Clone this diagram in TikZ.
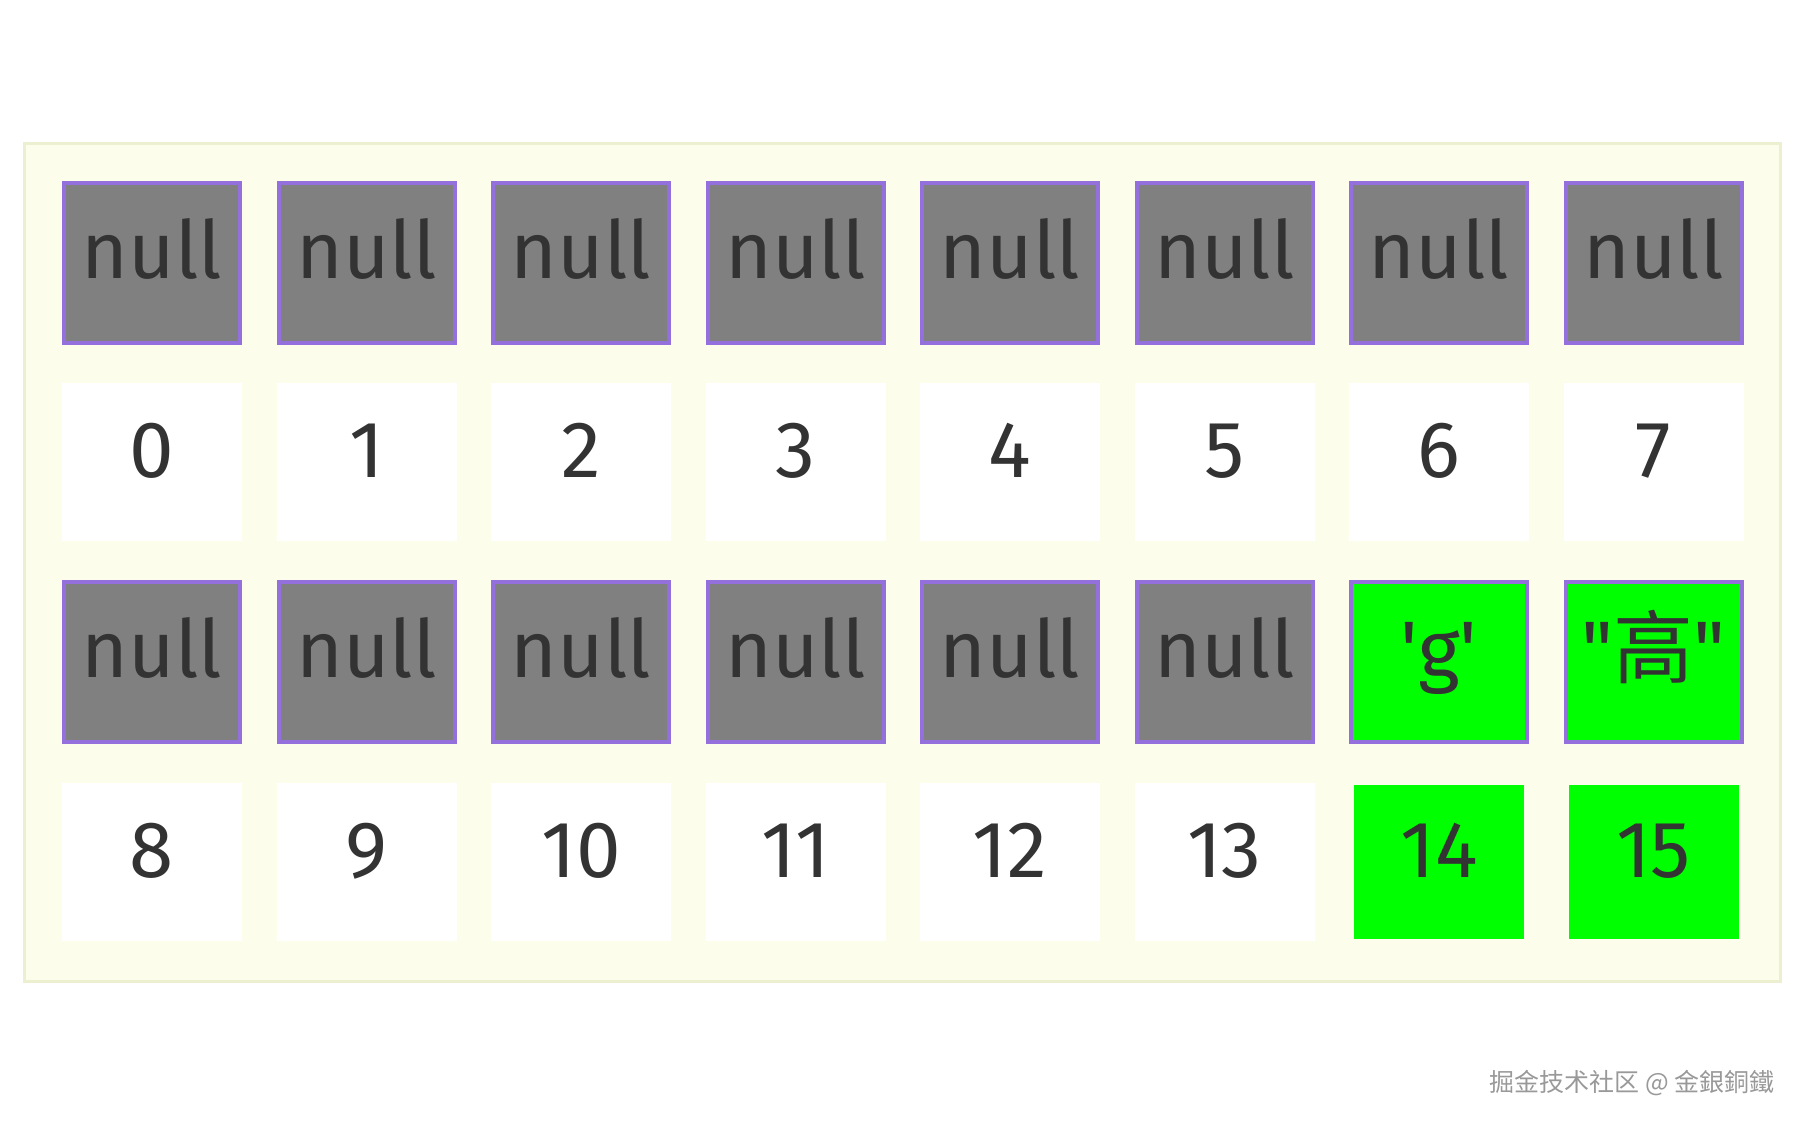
\documentclass[tikz,border=0pt]{standalone}
\usepackage{fontspec}
\setmainfont{Fira Sans}
\newfontfamily\plainfont{Fira Sans}
\newfontfamily\cjk{Noto Sans CJK SC}
\usepackage{tikz}
\usetikzlibrary{arrows,shapes}
\definecolor{slotgray}{HTML}{808080}
\definecolor{slotline}{HTML}{9370DB}
\definecolor{textgray}{HTML}{333333}
\definecolor{framefill}{HTML}{FDFDEC}
\definecolor{frameline}{HTML}{ECEFD0}
\definecolor{hitgreen}{HTML}{00FF00}

\begin{document}
\begin{tikzpicture}[x=0.5pt,y=-0.5pt,
  slot/.style={draw=slotline,line width=2pt,fill=slotgray,minimum width=88pt,minimum height=80pt,inner sep=0pt,text=textgray,font=\fontsize{40}{48}\selectfont,text height=25pt,text depth=10pt},
  idx/.style={fill=white,minimum width=90pt,minimum height=79pt,inner sep=0pt,text=textgray,font=\fontsize{40}{48}\selectfont,text height=25pt,text depth=10pt},
  hit/.style={slot,fill=hitgreen,font=\plainfont\fontsize{40}{48}\selectfont},
  hitidx/.style={idx,fill=hitgreen,minimum width=85pt,minimum height=77pt}]
\useasboundingbox (0,0) rectangle (1805,1126);
\draw[frameline,line width=1.5pt,fill=framefill] (24.5,143.5) rectangle (1780.5,981.5);

\node (S0) at (152,263)[slot] {null};
\node (S1) at (366.5,263)[slot] {null};
\node (S2) at (581,263)[slot] {null};
\node (S3) at (795.5,263)[slot] {null};
\node (S4) at (1010,263)[slot] {null};
\node (S5) at (1224.5,263)[slot] {null};
\node (S6) at (1439,263)[slot] {null};
\node (S7) at (1653.5,263)[slot] {null};
\node (I0) at (152,462)[idx] {0};
\node (I1) at (366.5,462)[idx] {1};
\node (I2) at (581,462)[idx] {2};
\node (I3) at (795.5,462)[idx] {3};
\node (I4) at (1010,462)[idx] {4};
\node (I5) at (1224.5,462)[idx] {5};
\node (I6) at (1439,462)[idx] {6};
\node (I7) at (1653.5,462)[idx] {7};

\node (S8) at (152,662)[slot] {null};
\node (S9) at (366.5,662)[slot] {null};
\node (S10) at (581,662)[slot] {null};
\node (S11) at (795.5,662)[slot] {null};
\node (S12) at (1010,662)[slot] {null};
\node (S13) at (1224.5,662)[slot] {null};
\node (S14) at (1439,662)[hit] {'g'};
\node (S15) at (1653.5,662)[hit] {"{\cjk 高}"};
\node (I8) at (152,862)[idx] {8};
\node (I9) at (366.5,862)[idx] {9};
\node (I10) at (581,862)[idx] {10};
\node (I11) at (795.5,862)[idx] {11};
\node (I12) at (1010,862)[idx] {12};
\node (I13) at (1224.5,862)[idx] {13};
\node (I14) at (1439,862)[hitidx] {14};
\node (I15) at (1653.5,862)[hitidx] {15};

\node (mark) at (1632,1083)[text=gray!80,font=\cjk\fontsize{12.5}{14}\selectfont] {掘金技术社区 @ 金銀銅鐵};
\end{tikzpicture}
\end{document}
